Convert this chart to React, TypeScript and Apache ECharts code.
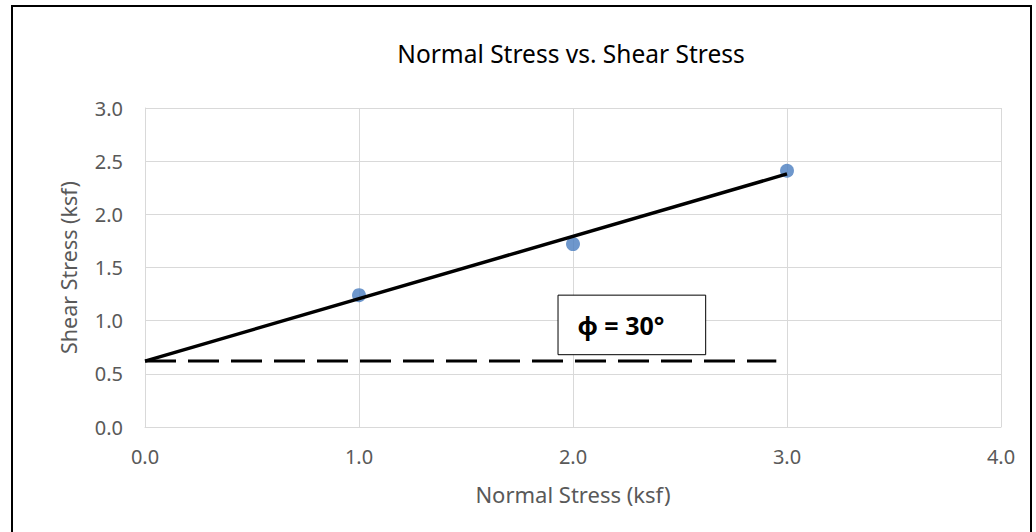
import React, { useEffect, useRef } from "react";
import * as echarts from "echarts";

const normalStress = [1.0, 2.0, 3.0];
const shearStress = [1.24, 1.72, 2.41];
const fitX = [0, 3];
const fitY = [0.62, 2.38];
const cohesionX = [0, 2.95];
const cohesionY = [0.62, 0.62];
const boxX = [1.93, 2.62];
const boxY = [0.68, 1.24];
const boxLabel = "ϕ = 30°";
const titleText = "Normal Stress vs. Shear Stress";
const xName = "Normal Stress (ksf)";
const yName = "Shear Stress (ksf)";

const FONT = "'Noto Sans', 'Open Sans', sans-serif";

export default function App() {
  const ref = useRef<HTMLDivElement>(null);
  useEffect(() => {
    if (!ref.current) return;
    const chart = echarts.init(ref.current, undefined, { renderer: "svg" });
    const gridColor = "#d9d9d9";
    const labelColor = "#595959";
    chart.setOption({
      animation: false,
      backgroundColor: "#ffffff",
      grid: { left: 145, right: 35, top: 108, bottom: 105, containLabel: false },
      xAxis: {
        type: "value",
        min: 0,
        max: 4,
        interval: 1,
        name: xName,
        nameLocation: "middle",
        nameGap: 56,
        nameTextStyle: { color: labelColor, fontSize: 22, fontFamily: FONT },
        axisLine: { show: true, lineStyle: { color: gridColor, width: 1 } },
        axisTick: { show: false },
        axisLabel: {
          color: labelColor,
          fontSize: 20,
          fontFamily: FONT,
          margin: 19,
          formatter: (v: number) => v.toFixed(1),
        },
        splitLine: { show: true, lineStyle: { color: gridColor, width: 1 } },
      },
      yAxis: {
        type: "value",
        min: 0,
        max: 3,
        interval: 0.5,
        name: yName,
        nameLocation: "middle",
        nameGap: 66,
        nameTextStyle: { color: labelColor, fontSize: 21.5, fontFamily: FONT },
        axisLine: { show: true, lineStyle: { color: gridColor, width: 1 } },
        axisTick: { show: false },
        axisLabel: {
          color: labelColor,
          fontSize: 20,
          fontFamily: FONT,
          margin: 22,
          formatter: (v: number) => v.toFixed(1),
        },
        splitLine: { show: true, lineStyle: { color: gridColor, width: 1 } },
      },
      graphic: [
        {
          type: "rect",
          shape: { x: 12, y: 6, width: 1019, height: 540 },
          style: { fill: "none", stroke: "#000000", lineWidth: 2 },
          silent: true,
        },
        {
          type: "text",
          x: 571,
          y: 53,
          style: {
            text: titleText,
            fill: "#000000",
            fontSize: 24.5,
            fontFamily: FONT,
            textAlign: "center",
            textVerticalAlign: "middle",
          },
        },
      ],
      series: [
        {
          type: "line",
          name: "box",
          data: [],
          markArea: {
            silent: true,
            itemStyle: { color: "#ffffff", borderColor: "#000000", borderWidth: 1 },
            label: {
              show: true,
              position: "insideLeft",
              distance: 20,
              color: "#000000",
              fontSize: 25,
              fontWeight: "bold",
              fontFamily: FONT,
              formatter: boxLabel,
            },
            data: [[{ coord: [boxX[0], boxY[0]] }, { coord: [boxX[1], boxY[1]] }]],
          },
          z: 3,
        },
        {
          type: "line",
          name: "cohesion",
          data: cohesionX.map((x, i) => [x, cohesionY[i]]),
          symbol: "none",
          lineStyle: { color: "#000000", width: 3, type: [31, 12] },
          z: 4,
        },
        {
          type: "line",
          name: "fit",
          data: fitX.map((x, i) => [x, fitY[i]]),
          symbol: "none",
          lineStyle: { color: "#000000", width: 3.5 },
          z: 4,
        },
        {
          type: "scatter",
          name: "data",
          data: normalStress.map((x, i) => [x, shearStress[i]]),
          symbolSize: 14,
          itemStyle: { color: "#4a7dbf" },
          z: 3,
        },
      ],
    });
    return () => chart.dispose();
  }, []);
  return (
    <div
      ref={ref}
      style={{ position: "absolute", left: 0, top: 0, width: 1036, height: 532 }}
    />
  );
}
